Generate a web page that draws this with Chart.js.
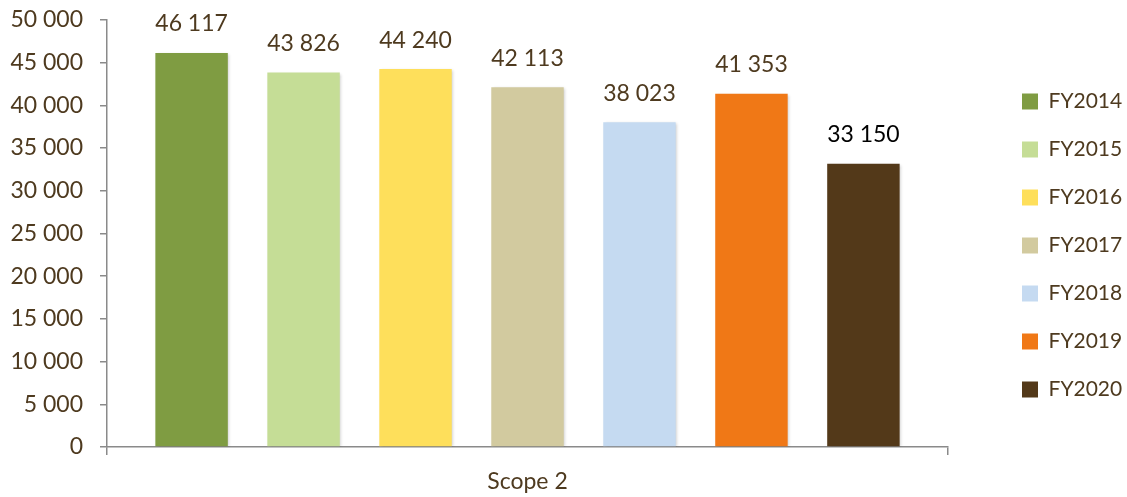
<!DOCTYPE html>
<html>
<head>
<meta charset="utf-8">
<script src="https://cdn.jsdelivr.net/npm/chart.js@4/dist/chart.umd.min.js"></script>
<style>
  html, body { margin: 0; padding: 0; background: #ffffff; }
  #wrap { width: 1127px; height: 497px; position: relative; }
</style>
</head>
<body>
<div id="wrap"><canvas id="c"></canvas></div>
<script>
const categories = ['Scope 2'];
const seriesNames = ['FY2014', 'FY2015', 'FY2016', 'FY2017', 'FY2018', 'FY2019', 'FY2020'];
const seriesValues = [46117, 43826, 44240, 42113, 38023, 41353, 33150];
const seriesColors = ['#7f9c42', '#c5dd96', '#fedf5b', '#d2ca9f', '#c5daf1', '#f07816', '#533919'];
const labelColors = ['#4e3a1f', '#4e3a1f', '#4e3a1f', '#4e3a1f', '#4e3a1f', '#4e3a1f', '#000000'];
const yTickValues = [0, 5000, 10000, 15000, 20000, 25000, 30000, 35000, 40000, 45000, 50000];

const textColor = '#4e3a1f';
const axisColor = '#8a8a8a';
const fontFamily = 'Lato, "Open Sans", sans-serif';

function fmt(v) {
  return String(v).replace(/\B(?=(\d{3})+(?!\d))/g, ' ');
}

const datasets = seriesNames.map((name, i) => ({
  label: name,
  data: [seriesValues[i]],
  backgroundColor: seriesColors[i],
  borderWidth: 0,
  categoryPercentage: 0.932,
  barPercentage: 0.647
}));

const barShadow = {
  id: 'barShadow',
  beforeDatasetDraw(chart) {
    const ctx = chart.ctx;
    ctx.save();
    ctx.shadowColor = 'rgba(0,0,0,0.22)';
    ctx.shadowBlur = 3;
    ctx.shadowOffsetX = 1.5;
    ctx.shadowOffsetY = 1;
  },
  afterDatasetDraw(chart) {
    chart.ctx.restore();
  }
};

const valueLabels = {
  id: 'valueLabels',
  afterDatasetsDraw(chart) {
    const ctx = chart.ctx;
    ctx.save();
    ctx.font = '23px ' + fontFamily;
    ctx.textAlign = 'center';
    ctx.textBaseline = 'middle';
    chart.data.datasets.forEach((ds, i) => {
      const meta = chart.getDatasetMeta(i);
      meta.data.forEach((bar, j) => {
        ctx.fillStyle = labelColors[i];
        ctx.fillText(fmt(ds.data[j]), bar.x, bar.y - 29);
      });
    });
    ctx.restore();
  }
};

new Chart(document.getElementById('c'), {
  type: 'bar',
  data: { labels: categories, datasets },
  options: {
    responsive: true,
    maintainAspectRatio: false,
    animation: false,
    layout: { padding: { top: -18, bottom: -12, left: 0, right: 0 } },
    plugins: {
      tooltip: { enabled: false },
      legend: {
        position: 'right',
        align: 'center',
        maxWidth: 132,
        labels: {
          boxWidth: 16,
          boxHeight: 16,
          padding: 27,
          color: textColor,
          font: { family: fontFamily, size: 21 }
        }
      }
    },
    scales: {
      x: {
        offset: true,
        grid: { offset: true, drawOnChartArea: false, drawTicks: true, tickLength: 8, color: axisColor, lineWidth: 1.5 },
        border: { display: true, color: axisColor, width: 1.5 },
        ticks: { color: textColor, font: { family: fontFamily, size: 23 }, padding: 13.2 }
      },
      y: {
        min: 0,
        max: 50000,
        afterBuildTicks(axis) { axis.ticks = yTickValues.map(v => ({ value: v })); },
        afterFit(s) { s.width = 107; },
        grid: { drawOnChartArea: false, drawTicks: true, tickLength: 7, color: axisColor, lineWidth: 1.5 },
        border: { display: true, color: axisColor, width: 1.5 },
        ticks: { color: textColor, font: { family: fontFamily, size: 23, lineHeight: 0.25 }, padding: 17, callback: v => fmt(v) }
      },
      yR: {
        type: 'linear',
        position: 'right',
        display: true,
        grid: { display: false },
        border: { display: false },
        ticks: { display: false },
        afterFit(s) { s.width = 47; }
      }
    }
  },
  plugins: [barShadow, valueLabels]
});
</script>
</body>
</html>
